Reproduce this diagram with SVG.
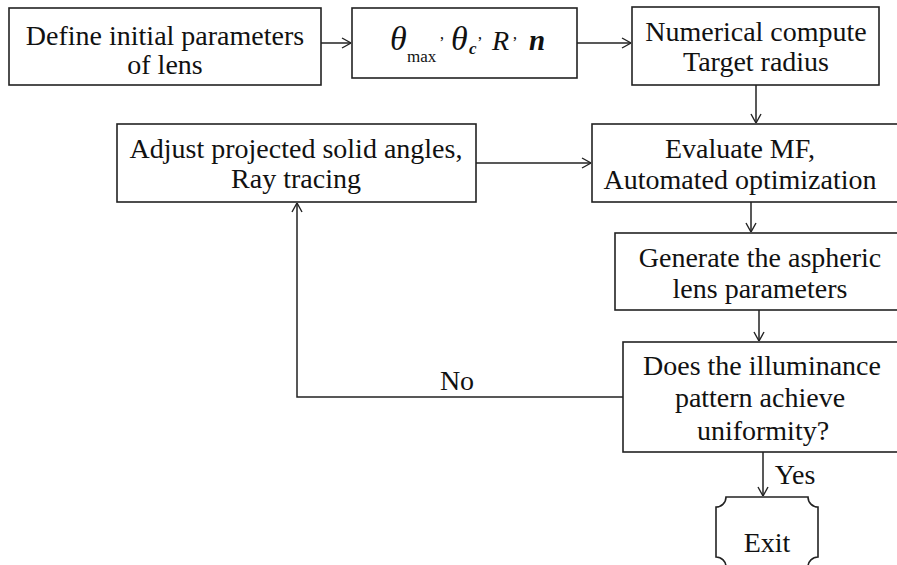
<svg xmlns="http://www.w3.org/2000/svg" width="897" height="565" viewBox="0 0 897 565">
  <defs>
    <marker id="arrow" viewBox="0 0 10 12" refX="10" refY="6" markerWidth="10" markerHeight="12" markerUnits="userSpaceOnUse" orient="auto">
      <polyline points="1,1 10,6 1,11" fill="none" stroke="#222" stroke-width="1.4"/>
    </marker>
  </defs>
  <style>
    .box { fill: #fff; stroke: #222; stroke-width: 1.6; }
    .lbl { font-family: "Liberation Serif", "Times New Roman", serif; font-size: 28px; fill: #111; text-anchor: middle; }
    .conn { fill: none; stroke: #222; stroke-width: 1.5; }
    .math { font-family: "Liberation Serif", "Times New Roman", serif; fill: #111; }
  </style>
  <rect width="897" height="565" fill="#fff"/>

  <!-- connectors -->
  <g id="connectors">
    <line class="conn" x1="321" y1="43" x2="351" y2="43" marker-end="url(#arrow)"/>
    <line class="conn" x1="577" y1="43" x2="631" y2="43" marker-end="url(#arrow)"/>
    <line class="conn" x1="756" y1="85" x2="756" y2="123" marker-end="url(#arrow)"/>
    <line class="conn" x1="476" y1="163" x2="591" y2="163" marker-end="url(#arrow)"/>
    <line class="conn" x1="751" y1="202" x2="751" y2="232" marker-end="url(#arrow)"/>
    <line class="conn" x1="759" y1="310" x2="759" y2="341" marker-end="url(#arrow)"/>
    <polyline class="conn" points="623,397 297,397 297,203" marker-end="url(#arrow)"/>
    <line class="conn" x1="763" y1="452" x2="763" y2="496" marker-end="url(#arrow)"/>
    <text class="lbl" x="457" y="390">No</text>
    <text class="lbl" x="795" y="484">Yes</text>
  </g>

  <!-- nodes -->
  <g id="define">
    <rect class="box" x="9" y="8" width="312" height="77"/>
    <text class="lbl" x="165" y="45">Define initial parameters</text>
    <text class="lbl" x="165" y="74">of lens</text>
  </g>

  <g id="params">
    <rect class="box" x="352" y="8" width="225" height="70"/>
    <text class="math" y="50">
      <tspan x="390" font-style="italic" font-size="34">θ</tspan><tspan x="407" y="62" font-size="17">max</tspan><tspan x="439" y="48" font-size="17">’</tspan><tspan x="451" y="50" font-style="italic" font-size="34">θ</tspan><tspan x="469" y="54" font-style="italic" font-weight="bold" font-size="17">c</tspan><tspan x="477" y="48" font-size="17">’</tspan><tspan x="492" y="50" font-style="italic" font-size="28">R</tspan><tspan x="512" y="48" font-size="17">’</tspan><tspan x="529" y="50" font-style="italic" font-weight="bold" font-size="29">n</tspan>
    </text>
  </g>

  <g id="compute">
    <rect class="box" x="632" y="7" width="247" height="78"/>
    <text class="lbl" x="756" y="41">Numerical compute</text>
    <text class="lbl" x="756" y="71">Target radius</text>
  </g>

  <g id="adjust">
    <rect class="box" x="117" y="124" width="359" height="78"/>
    <text class="lbl" x="296" y="158">Adjust projected solid angles,</text>
    <text class="lbl" x="296" y="188">Ray tracing</text>
  </g>

  <g id="evaluate">
    <rect class="box" x="592" y="124" width="320" height="78"/>
    <text class="lbl" x="740" y="158" font-size="29">Evaluate MF,</text>
    <text class="lbl" x="740" y="189" font-size="29">Automated optimization</text>
  </g>

  <g id="generate">
    <rect class="box" x="615" y="233" width="300" height="77"/>
    <text class="lbl" x="760" y="267">Generate the aspheric</text>
    <text class="lbl" x="760" y="298">lens parameters</text>
  </g>

  <g id="uniformity">
    <rect class="box" x="623" y="342" width="300" height="110"/>
    <text class="lbl" x="762" y="375">Does the illuminance</text>
    <text class="lbl" x="760" y="407">pattern achieve</text>
    <text class="lbl" x="763" y="440">uniformity?</text>
  </g>

  <g id="exit">
    <path class="box" d="M726,497 L808,497 A10,10 0 0 0 818,507 L818,557 A10,10 0 0 0 808,567 L726,567 A10,10 0 0 0 716,557 L716,507 A10,10 0 0 0 726,497 Z"/>
    <text class="lbl" x="767" y="552">Exit</text>
  </g>
</svg>
